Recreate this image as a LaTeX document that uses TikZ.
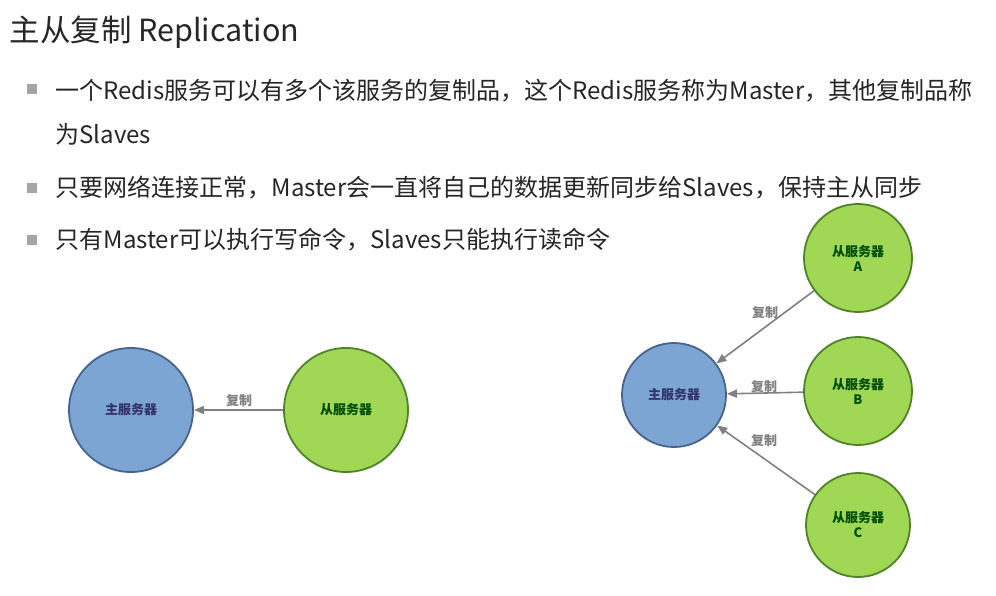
\documentclass[tikz,border=0pt]{standalone}
\usepackage{fontspec}
\setmainfont{Noto Sans CJK SC}
\usetikzlibrary{arrows.meta}
\definecolor{mfill}{RGB}{125,165,212}
\definecolor{mdraw}{RGB}{70,100,140}
\definecolor{sfill}{RGB}{160,215,85}
\definecolor{sdraw}{RGB}{80,130,40}
\begin{document}
\begin{tikzpicture}[x=1pt,y=-1pt,
  master/.style={circle,draw=mdraw,line width=1.8pt,fill=mfill,minimum size=#1,inner sep=0pt,font=\fontsize{13}{15}\selectfont\bfseries,text=black!65!blue!60!gray},
  slave/.style={circle,draw=sdraw,line width=1.8pt,fill=sfill,minimum size=#1,inner sep=0pt,align=center,font=\fontsize{13}{15}\selectfont\bfseries,text=green!30!black},
  rep/.style={-{Triangle[length=10pt,width=8pt]},draw=gray,line width=1.6pt},
  lbl/.style={font=\fontsize{13}{15}\selectfont\bfseries,text=black!50},
  bul/.style={anchor=west,font=\fontsize{24}{44}\selectfont,align=left,text=black!85},
  sq/.style={fill=black!35,minimum size=10pt,inner sep=0pt}]
\useasboundingbox[fill=white] (0,0) rectangle (996,596);
\node[anchor=west,font=\fontsize{30.5}{34}\selectfont,text=black!85] (title) at (6,32) {主从复制 Replication};
\node[sq] (s1) at (32,89) {};
\node[sq] (s2) at (32,188) {};
\node[sq] (s3) at (32,240) {};
\node[bul] (b1) at (52,112) {一个Redis服务可以有多个该服务的复制品，这个Redis服务称为Master，其他复制品称\\为Slaves};
\node[bul] (b2) at (52,188) {只要网络连接正常，Master会一直将自己的数据更新同步给Slaves，保持主从同步};
\node[bul] (b3) at (52,240) {只有Master可以执行写命令，Slaves只能执行读命令};
\node[master=124pt] (m1) at (131,410) {主服务器};
\node[slave=124pt] (s) at (346,410) {从服务器};
\draw[rep] (s) -- (m1);
\node[lbl] (l0) at (239,401) {复制};
\node[master=104pt] (m2) at (674,395) {主服务器};
\node[slave=108pt] (a) at (858,258) {从服务器\\A};
\node[slave=108pt] (b) at (858,391) {从服务器\\B};
\node[slave=104pt] (c) at (858,525) {从服务器\\C};
\draw[rep] (a) -- (m2);
\draw[rep] (b) -- (m2);
\draw[rep] (c) -- (m2);
\node[lbl] (l1) at (765,313) {复制};
\node[lbl] (l2) at (764,387) {复制};
\node[lbl] (l3) at (764,441) {复制};
\end{tikzpicture}
\end{document}
